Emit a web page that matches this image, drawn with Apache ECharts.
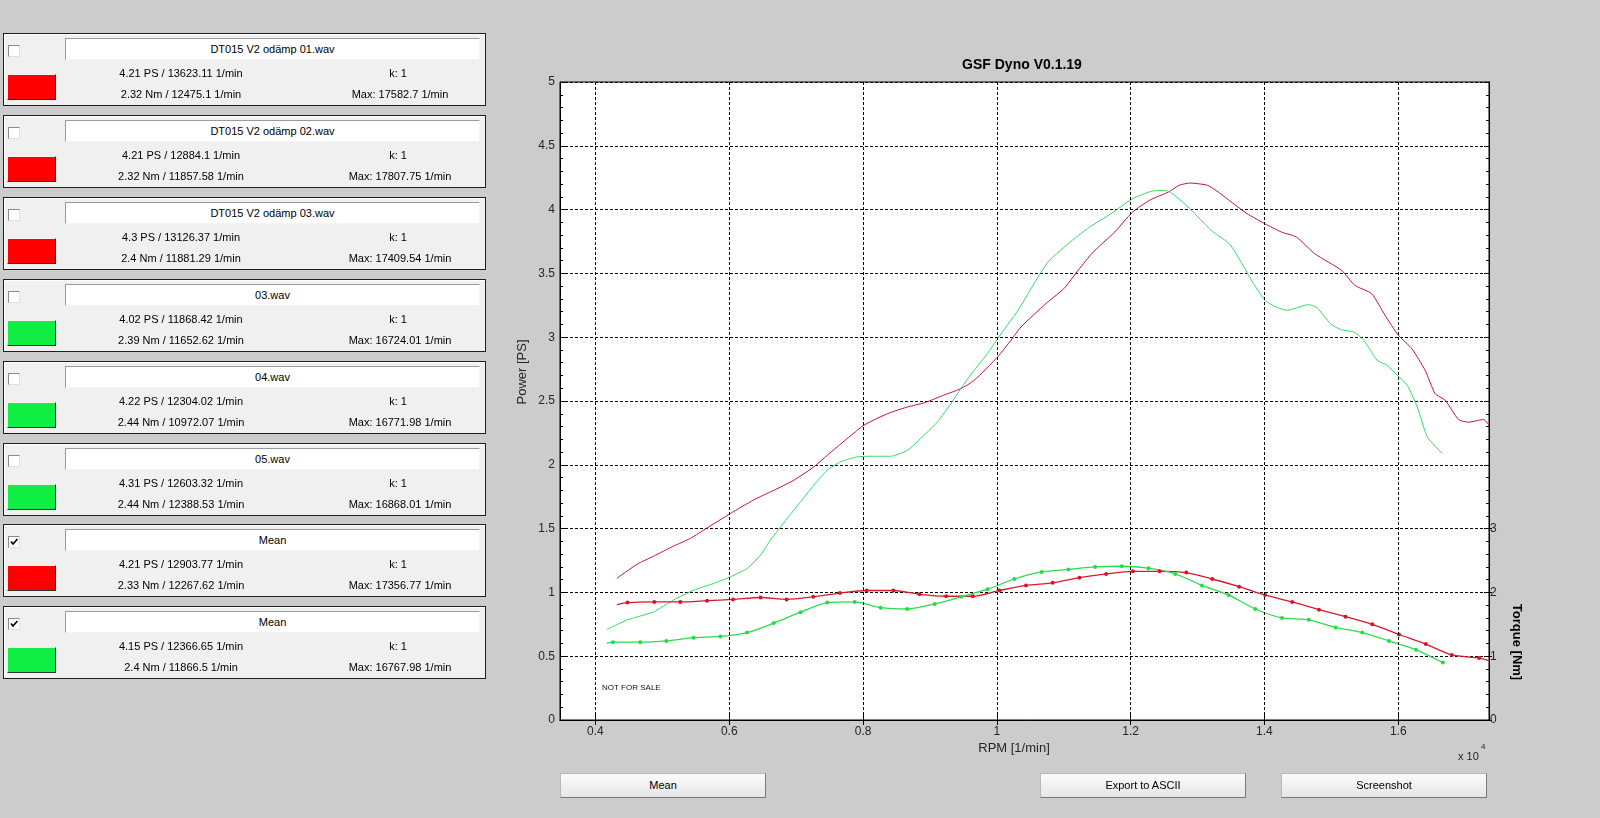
<!DOCTYPE html>
<html>
<head>
<meta charset="utf-8">
<script src="https://cdn.jsdelivr.net/npm/echarts@6/dist/echarts.min.js"></script>
<style>
html,body{margin:0;padding:0;width:1600px;height:818px;background:#cccccc;overflow:hidden;font-family:"Liberation Sans",Arial,sans-serif;}
#chart{position:absolute;left:0;top:0;width:1600px;height:818px;z-index:1;}
#panel{position:absolute;left:0;top:0;width:500px;height:700px;z-index:2;}
.box{position:absolute;left:3px;width:481px;height:71px;background:#f0f0f0;border:1px solid #1e1e1e;box-shadow:inset 1px 1px 0 #ffffff;}
.chk{position:absolute;left:4px;top:11px;width:10px;height:10px;background:#fff;border:1px solid #8a8a8a;border-right-color:#e0e0e0;border-bottom-color:#e0e0e0;}
.chk svg{position:absolute;left:0;top:0;}
.sw{position:absolute;left:3px;top:40px;width:47px;height:24px;border:1px solid #f4f4f4;border-right-color:#303030;border-bottom-color:#303030;}
.fld{position:absolute;left:61px;top:4px;width:413px;height:20px;background:#fff;border:1px solid #9a9a9a;border-right-color:#f4f4f4;border-bottom-color:#f4f4f4;font-size:11px;line-height:20px;text-align:center;color:#000;}
.t{position:absolute;width:220px;text-align:center;font-size:11px;line-height:14px;color:#000;white-space:nowrap;}
.btn{position:absolute;top:773px;width:204px;height:23px;background:linear-gradient(#fbfbfb,#e6e6e6);border:1px solid #b8b8b8;border-right-color:#7a7a7a;border-bottom-color:#7a7a7a;font-size:11px;line-height:23px;text-align:center;color:#000;z-index:2;}
</style>
</head>
<body>
<div id="chart"></div>
<div id="panel"></div>
<div class="btn" style="left:560px">Mean</div>
<div class="btn" style="left:1040px">Export to ASCII</div>
<div class="btn" style="left:1281px">Screenshot</div>
<script>
// ---------- left panel data ----------
const fileNames = ['DT015 V2 odämp 01.wav','DT015 V2 odämp 02.wav','DT015 V2 odämp 03.wav','03.wav','04.wav','05.wav','Mean','Mean'];
const powerTexts = ['4.21 PS / 13623.11 1/min','4.21 PS / 12884.1 1/min','4.3 PS / 13126.37 1/min','4.02 PS / 11868.42 1/min','4.22 PS / 12304.02 1/min','4.31 PS / 12603.32 1/min','4.21 PS / 12903.77 1/min','4.15 PS / 12366.65 1/min'];
const torqueTexts = ['2.32 Nm / 12475.1 1/min','2.32 Nm / 11857.58 1/min','2.4 Nm / 11881.29 1/min','2.39 Nm / 11652.62 1/min','2.44 Nm / 10972.07 1/min','2.44 Nm / 12388.53 1/min','2.33 Nm / 12267.62 1/min','2.4 Nm / 11866.5 1/min'];
const kTexts = ['k: 1','k: 1','k: 1','k: 1','k: 1','k: 1','k: 1','k: 1'];
const maxTexts = ['Max: 17582.7 1/min','Max: 17807.75 1/min','Max: 17409.54 1/min','Max: 16724.01 1/min','Max: 16771.98 1/min','Max: 16868.01 1/min','Max: 17356.77 1/min','Max: 16767.98 1/min'];
const checked = [false,false,false,false,false,false,true,true];
const swatchColors = ['#ff0000','#ff0000','#ff0000','#11ee44','#11ee44','#11ee44','#ff0000','#11ee44'];

// ---------- chart data ----------
const rpmPowerRed = [4320,4620,4869,5168,5418,5668,6017,6366,6666,6965,7265,7465,7764,8013,8363,8663,8912,9162,9461,9661,10011,10211,10361,10733,11001,11215,11440,11762,12028,12296,12563,12724,12885,13152,13312,13526,13740,14008,14254,14478,14753,15153,15353,15603,15803,16003,16203,16402,16552,16702,16902,17052,17277,17357];
const powerRed = [1.11,1.22,1.284,1.363,1.423,1.505,1.618,1.725,1.80,1.879,1.984,2.075,2.206,2.31,2.40,2.453,2.485,2.537,2.597,2.662,2.845,2.976,3.08,3.263,3.38,3.524,3.667,3.824,3.98,4.077,4.137,4.19,4.208,4.19,4.137,4.051,3.968,3.889,3.824,3.785,3.654,3.524,3.406,3.341,3.171,3.015,2.91,2.741,2.558,2.506,2.355,2.334,2.355,2.31];
const rpmPowerGreen = [4171,4470,4869,5168,5468,5767,6017,6267,6467,6616,6866,6965,7265,7465,7665,7914,8163,8413,8663,8912,9112,9312,9461,9661,9861,10011,10317,10745,11066,11387,11708,12028,12296,12430,12563,12885,13205,13474,13637,13837,14037,14336,14660,14785,14985,15135,15335,15485,15685,15835,15985,16135,16285,16435,16660];
const powerGreen = [0.71,0.783,0.848,0.94,1.018,1.07,1.122,1.188,1.292,1.41,1.579,1.644,1.84,1.958,2.023,2.062,2.067,2.067,2.114,2.232,2.336,2.48,2.597,2.741,2.872,2.989,3.211,3.576,3.733,3.863,3.968,4.085,4.142,4.15,4.145,4.007,3.837,3.733,3.602,3.42,3.276,3.211,3.255,3.232,3.107,3.06,3.041,2.976,2.819,2.78,2.702,2.623,2.453,2.219,2.088];
const rpmTorqueRed = [4320,4479,4879,5268,5668,6057,6467,6857,7256,7655,8054,8454,8843,9242,9642,10041,10436,10835,11235,11634,12034,12433,12832,13221,13621,14010,14415,14814,15213,15612,16012,16412,16801,17210,17357];
const torqueRed = [1.81,1.84,1.85,1.85,1.87,1.89,1.92,1.89,1.93,1.99,2.03,2.03,1.97,1.94,1.94,2.03,2.11,2.15,2.23,2.29,2.33,2.33,2.31,2.21,2.09,1.96,1.85,1.73,1.62,1.50,1.34,1.19,1.02,0.97,0.93];
const rpmTorqueGreen = [4171,4261,4670,5060,5468,5868,6267,6666,7066,7465,7874,8264,8663,9072,9472,9861,10261,10670,11070,11469,11868,12267,12667,13066,13465,13864,14263,14663,15063,15462,15861,16266,16667];
const torqueGreen = [1.20,1.22,1.22,1.24,1.29,1.31,1.37,1.52,1.69,1.84,1.85,1.76,1.74,1.82,1.93,2.05,2.21,2.32,2.36,2.40,2.41,2.38,2.29,2.11,1.96,1.74,1.60,1.57,1.45,1.37,1.24,1.10,0.90];
const rpmTickValues = [4000,6000,8000,10000,12000,14000,16000];
const torqueTickValues = [0,1,2,3];
const rpmMin = 3470, rpmMax = 17357;

// ---------- build panel ----------
const panel = document.getElementById('panel');
fileNames.forEach((name,i)=>{
  const b = document.createElement('div');
  b.className='box';
  b.style.top = (33 + i*81.9).toFixed(1)+'px';
  const chk = checked[i] ? '<svg width="10" height="10"><polyline points="2,4.5 4,7 8.5,2" fill="none" stroke="#000" stroke-width="1.7"/></svg>' : '';
  b.innerHTML =
    '<div class="chk">'+chk+'</div>'+
    '<div class="sw" style="background:'+swatchColors[i]+'"></div>'+
    '<div class="fld">'+name+'</div>'+
    '<div class="t" style="left:67px;top:32px">'+powerTexts[i]+'</div>'+
    '<div class="t" style="left:67px;top:53px">'+torqueTexts[i]+'</div>'+
    '<div class="t" style="left:284px;top:32px">'+kTexts[i]+'</div>'+
    '<div class="t" style="left:286px;top:53px">'+maxTexts[i]+'</div>';
  panel.appendChild(b);
});

// ---------- chart ----------
const zip = (xs, ys) => xs.map((x,i)=>[x, ys[i]]);
const markerData = (xs, ys, noFirst, noLast) => xs.map((x,i)=>{
  const hide = (noFirst && i===0) || (noLast && i===xs.length-1);
  return hide ? {value:[x,ys[i]], symbolSize:0} : {value:[x,ys[i]]};
});
const FONT = '"Liberation Sans", Arial, sans-serif';
const chart = echarts.init(document.getElementById('chart'));
const axisLineStyle = {show:true, lineStyle:{color:'#000', width:1}};
chart.setOption({
  animation:false,
  backgroundColor:'transparent',
  textStyle:{fontFamily:FONT},
  grid:{left:560, top:82, width:929, height:638, show:true, backgroundColor:'#ffffff', borderColor:'#000', borderWidth:1},
  xAxis:[
    {type:'value', min:rpmMin, max:rpmMax, position:'bottom',
     axisLine:axisLineStyle,
     axisTick:{show:true, inside:true, length:5, customValues:rpmTickValues, lineStyle:{color:'#000'}},
     axisLabel:{show:true, customValues:rpmTickValues, formatter:v=>String(+(v/10000).toFixed(1)), color:'#262626', fontSize:12, margin:6, fontFamily:FONT},
     splitLine:{show:false}},
    {type:'value', min:rpmMin, max:rpmMax, position:'top',
     axisLine:axisLineStyle,
     axisTick:{show:true, inside:true, length:5, customValues:rpmTickValues, lineStyle:{color:'#000'}},
     axisLabel:{show:false}, splitLine:{show:false}}
  ],
  yAxis:[
    {type:'value', min:0, max:5, interval:0.5, position:'left',
     axisLine:axisLineStyle,
     axisTick:{show:true, inside:true, length:5, lineStyle:{color:'#000'}},
     minorTick:{show:true, splitNumber:5, length:3, lineStyle:{color:'#000'}},
     axisLabel:{color:'#262626', fontSize:12, margin:5, fontFamily:FONT},
     splitLine:{show:true, lineStyle:{color:'#000', width:1, type:[3,2]}}},
    {type:'value', min:0, max:10, position:'right',
     axisLine:axisLineStyle,
     axisTick:{show:true, inside:false, length:3, customValues:torqueTickValues, lineStyle:{color:'#000'}},
     axisLabel:{show:true, customValues:torqueTickValues, color:'#262626', fontSize:12, margin:1, fontFamily:FONT},
     splitLine:{show:false}},
    {type:'value', min:0, max:5, interval:0.5, position:'right',
     axisLine:axisLineStyle,
     axisTick:{show:true, inside:true, length:5, lineStyle:{color:'#000'}},
     minorTick:{show:true, splitNumber:5, length:3, lineStyle:{color:'#000'}},
     axisLabel:{show:false}, splitLine:{show:false}}
  ],
  graphic:[
    {type:'text', x:1022, y:65, style:{text:'GSF Dyno V0.1.19', font:'bold 14px '+FONT, fill:'#000', textAlign:'center', textVerticalAlign:'middle'}},
    {type:'text', x:522, y:372, rotation:Math.PI/2, style:{text:'Power [PS]', font:'13px '+FONT, fill:'#262626', textAlign:'center', textVerticalAlign:'middle'}},
    {type:'text', x:1014, y:748, style:{text:'RPM [1/min]', font:'13px '+FONT, fill:'#262626', textAlign:'center', textVerticalAlign:'middle'}},
    {type:'text', x:1517, y:642, rotation:-Math.PI/2, style:{text:'Torque [Nm]', font:'bold 13px '+FONT, fill:'#000', textAlign:'center', textVerticalAlign:'middle'}},
    {type:'text', x:1458, y:757, style:{text:'x 10', font:'11px '+FONT, fill:'#262626', textAlign:'left', textVerticalAlign:'middle'}},
    {type:'text', x:1481, y:747, style:{text:'4', font:'8px '+FONT, fill:'#262626', textAlign:'left', textVerticalAlign:'middle'}},
    {type:'text', x:602, y:688, style:{text:'NOT FOR SALE', font:'8px '+FONT, fill:'#111', textAlign:'left', textVerticalAlign:'middle'}}
  ],
  series:[
    {name:'grid', type:'line', xAxisIndex:0, yAxisIndex:0, data:[], z:1, silent:true,
     markLine:{silent:true, symbol:'none', animation:false, label:{show:false},
       lineStyle:{color:'#000', width:1, type:[3,2]},
       data:rpmTickValues.map(v=>({xAxis:v}))}},
    {name:'Power mean red', type:'line', xAxisIndex:0, yAxisIndex:0, data:zip(rpmPowerRed, powerRed),
     symbol:'none', smooth:0.2, lineStyle:{color:'#c4123a', width:1}, z:3},
    {name:'Power mean green', type:'line', xAxisIndex:0, yAxisIndex:0, data:zip(rpmPowerGreen, powerGreen),
     symbol:'none', smooth:0.2, lineStyle:{color:'#33dd66', width:1}, z:3},
    {name:'Torque mean red', type:'line', xAxisIndex:0, yAxisIndex:1, data:markerData(rpmTorqueRed, torqueRed, true, true),
     symbol:'circle', symbolSize:4, showAllSymbol:true, smooth:0.25,
     itemStyle:{color:'#e0102a'}, lineStyle:{color:'#d81a2c', width:1.3}, z:4},
    {name:'Torque mean green', type:'line', xAxisIndex:0, yAxisIndex:1, data:markerData(rpmTorqueGreen, torqueGreen, true, false),
     symbol:'circle', symbolSize:4, showAllSymbol:true, smooth:0.25,
     itemStyle:{color:'#22dd44'}, lineStyle:{color:'#2add4c', width:1.3}, z:4}
  ]
});
</script>
</body>
</html>
